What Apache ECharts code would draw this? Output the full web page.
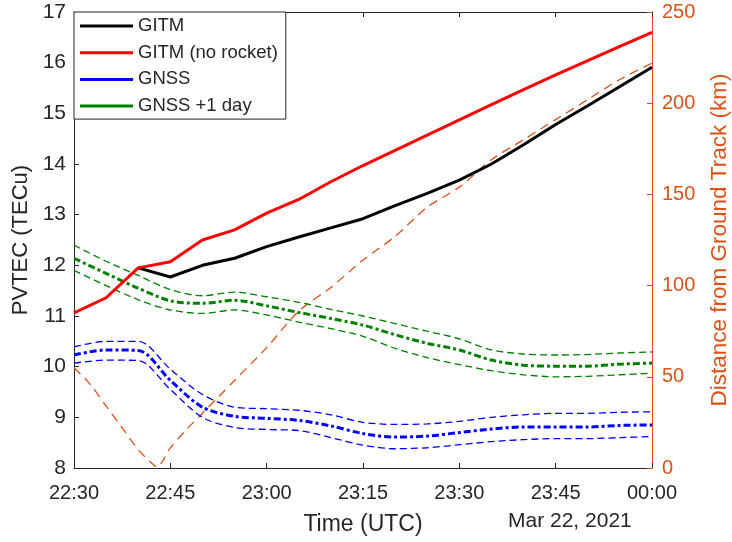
<!DOCTYPE html>
<html>
<head>
<meta charset="utf-8">
<script src="https://cdn.jsdelivr.net/npm/echarts@6/dist/echarts.min.js"></script>
<style>
  html, body { margin: 0; padding: 0; background: #fff; }
  #chart { width: 732px; height: 542px; }
</style>
</head>
<body>
<div id="chart"></div>
<script>
// minutes after 22:30 UTC
var xTickLabels = ['22:30', '22:45', '23:00', '23:15', '23:30', '23:45', '00:00'];
var modelTimes = [0, 5, 10, 15, 20, 25, 30, 35, 40, 45, 50, 55, 60, 65, 70, 75, 80, 85, 90];

var gitm = [null, null, 11.95, 11.77, 12.0, 12.14, 12.37, 12.56, 12.74, 12.92, 13.18, 13.42, 13.68, 14.0, 14.38, 14.78, 15.15, 15.53, 15.91];
var gitmNoRocket = [11.06, 11.36, 11.95, 12.07, 12.5, 12.7, 13.03, 13.3, 13.65, 13.97, 14.27, 14.57, 14.87, 15.17, 15.47, 15.76, 16.04, 16.32, 16.6];

var gnss = [10.23, 10.33, 10.32, 9.73, 9.2, 9.02, 8.98, 8.94, 8.83, 8.68, 8.61, 8.63, 8.7, 8.77, 8.81, 8.81, 8.81, 8.84, 8.85];
var gnssHi = [10.39, 10.5, 10.5, 9.95, 9.45, 9.2, 9.17, 9.14, 9.05, 8.9, 8.86, 8.87, 8.92, 9.0, 9.05, 9.08, 9.08, 9.1, 9.11];
var gnssLo = [10.07, 10.13, 10.12, 9.55, 9.0, 8.8, 8.76, 8.74, 8.6, 8.45, 8.38, 8.4, 8.46, 8.52, 8.56, 8.58, 8.58, 8.6, 8.62];

var gnssDay = [12.14, 11.84, 11.55, 11.3, 11.25, 11.31, 11.2, 11.07, 10.95, 10.82, 10.63, 10.46, 10.33, 10.13, 10.03, 10.01, 10.01, 10.05, 10.07];
var gnssDayHi = [12.4, 12.08, 11.8, 11.52, 11.4, 11.47, 11.38, 11.27, 11.13, 11.0, 10.85, 10.7, 10.55, 10.33, 10.25, 10.23, 10.24, 10.27, 10.29];
var gnssDayLo = [11.9, 11.6, 11.32, 11.12, 11.05, 11.12, 11.02, 10.88, 10.75, 10.6, 10.36, 10.18, 10.04, 9.92, 9.84, 9.8, 9.81, 9.84, 9.87];

var distTimes = [0, 2.5, 5, 7.5, 10, 12, 13, 14, 15, 17.5, 20, 22.5, 25, 30, 35, 40, 45, 50, 55, 60, 65, 70, 75, 80, 85, 90];
var distKm = [55, 46, 34, 22, 10, 3, 0.5, 5, 11, 21, 30, 39, 48, 66, 86, 99, 114, 127, 143, 154, 169, 180, 191, 202, 213, 222];

var textColor = '#262626';
var orange = '#D95319';
var font = 'Liberation Sans, Arial, sans-serif';

function pairs(times, vals) {
	var out = [];
	for (var i = 0; i < times.length; i++) {
		out.push([times[i], vals[i]]);
	}
	return out;
}

function gnssLine(name, color, vals, center) {
	return {
		name: name,
		type: 'line',
		yAxisIndex: 0,
		smooth: 0.3,
		symbol: 'none',
		color: color,
		lineStyle: center
			? { color: color, width: 3, type: [7, 3, 3, 3] }
			: { color: color, width: 1.3, type: [7, 4] },
		data: pairs(modelTimes, vals)
	};
}

var myChart = echarts.init(document.getElementById('chart'), null, { renderer: 'canvas' });

var xAxisBase = {
	type: 'value',
	min: 0,
	max: 90,
	interval: 15,
	axisLine: { show: true, onZero: false, lineStyle: { color: textColor, width: 1 } },
	axisTick: { show: true, inside: true, length: 5, lineStyle: { color: textColor } },
	splitLine: { show: false }
};

var option = {
	animation: false,
	backgroundColor: '#fff',
	grid: { left: 74, right: 80, top: 12, bottom: 74, containLabel: false, outerBoundsMode: 'none' },
	legend: {
		data: ['GITM', 'GITM (no rocket)', 'GNSS', 'GNSS +1 day'],
		orient: 'vertical',
		left: 74,
		top: 12,
		icon: 'rect',
		itemWidth: 53,
		itemHeight: 3,
		itemGap: 6.7,
		padding: [4, 8, 3, 6],
		backgroundColor: '#fff',
		borderColor: textColor,
		borderWidth: 1,
		borderRadius: 0,
		textStyle: { fontFamily: font, fontSize: 18.5, color: textColor, lineHeight: 20 },
		itemStyle: { borderWidth: 0 }
	},
	xAxis: [
		Object.assign({}, xAxisBase, {
			position: 'bottom',
			name: 'Time (UTC)',
			nameLocation: 'middle',
			nameGap: 45,
			nameTextStyle: { fontFamily: font, fontSize: 23, color: textColor },
			axisLabel: {
				fontFamily: font, fontSize: 20, color: textColor, margin: 15,
				formatter: function (v) { return xTickLabels[Math.round(v / 15)]; }
			}
		}),
		Object.assign({}, xAxisBase, {
			position: 'top',
			axisLabel: { show: false }
		})
	],
	yAxis: [
		{
			type: 'value',
			position: 'left',
			min: 8,
			max: 17,
			interval: 1,
			name: 'PVTEC (TECu)',
			nameLocation: 'middle',
			nameGap: 41,
			nameTextStyle: { fontFamily: font, fontSize: 22, color: textColor },
			axisLine: { show: true, onZero: false, lineStyle: { color: textColor } },
			axisTick: { show: true, inside: true, length: 5, lineStyle: { color: textColor } },
			axisLabel: { fontFamily: font, fontSize: 21, color: textColor, margin: 8 },
			splitLine: { show: false }
		},
		{
			type: 'value',
			position: 'right',
			min: 0,
			max: 250,
			interval: 50,
			name: 'Distance from Ground Track (km)',
			nameLocation: 'middle',
			nameGap: 56,
			nameRotate: 90,
			nameTextStyle: { fontFamily: font, fontSize: 22.5, color: orange },
			axisLine: { show: true, onZero: false, lineStyle: { color: orange } },
			axisTick: { show: true, inside: true, length: 5, lineStyle: { color: orange } },
			axisLabel: { fontFamily: font, fontSize: 20, color: orange, margin: 10 },
			splitLine: { show: false }
		}
	],
	graphic: [
		{
			type: 'text',
			left: 508,
			top: 511,
			style: { text: 'Mar 22, 2021', fontFamily: font, fontSize: 21, fill: textColor }
		}
	],
	series: [
		{
			name: 'Distance',
			type: 'line',
			yAxisIndex: 1,
			smooth: 0.3,
			symbol: 'none',
			color: orange,
			lineStyle: { color: orange, width: 1.3, type: [9, 6] },
			data: pairs(distTimes, distKm)
		},
		gnssLine('GNSS', '#0000FF', gnss, true),
		gnssLine('GNSS', '#0000FF', gnssHi, false),
		gnssLine('GNSS', '#0000FF', gnssLo, false),
		gnssLine('GNSS +1 day', '#008000', gnssDay, true),
		gnssLine('GNSS +1 day', '#008000', gnssDayHi, false),
		gnssLine('GNSS +1 day', '#008000', gnssDayLo, false),
		{
			name: 'GITM',
			type: 'line',
			yAxisIndex: 0,
			symbol: 'none',
			color: '#000',
			lineStyle: { color: '#000', width: 3 },
			data: pairs(modelTimes, gitm)
		},
		{
			name: 'GITM (no rocket)',
			type: 'line',
			yAxisIndex: 0,
			symbol: 'none',
			color: '#FF0000',
			lineStyle: { color: '#FF0000', width: 3 },
			data: pairs(modelTimes, gitmNoRocket)
		}
	]
};

myChart.setOption(option);
</script>
</body>
</html>
